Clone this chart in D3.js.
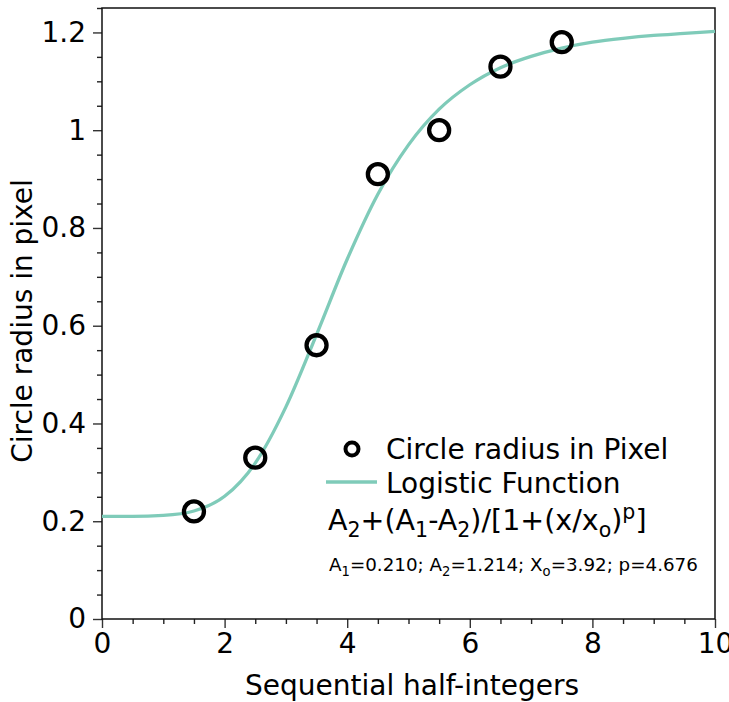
<!DOCTYPE html>
<html>
<head>
<meta charset="utf-8">
<script src="https://cdn.jsdelivr.net/npm/d3@7"></script>
<style>
  body { margin: 0; background: #fff; }
  svg { display: block; font-family: 'DejaVu Sans', sans-serif; }
</style>
</head>
<body>
<script>
// measured points (circle radius in pixel)
const xPoints = [1.5, 2.5, 3.5, 4.5, 5.5, 6.5, 7.5];
const yPoints = [0.22, 0.33, 0.56, 0.91, 1.00, 1.13, 1.18];

// fitted logistic curve
const curveX = [0, 0.5, 1, 1.5, 2, 2.5, 3, 3.5, 4, 4.5, 5, 5.5, 6, 6.5, 7, 7.5, 8, 8.5, 9, 9.5, 10];
const curveY = [0.210, 0.210, 0.212, 0.221, 0.251, 0.319, 0.434, 0.582, 0.736, 0.869, 0.970,
                1.043, 1.093, 1.128, 1.151, 1.168, 1.180, 1.188, 1.194, 1.198, 1.202];

const xTicks = [0, 2, 4, 6, 8, 10];
const yTicks = [0, 0.2, 0.4, 0.6, 0.8, 1, 1.2];

const width = 729, height = 702;
const margin = {top: 8, right: 14, bottom: 83, left: 102};

const svg = d3.select('body')
    .append('svg')
    .attr('width', width)
    .attr('height', height);

const x = d3.scaleLinear().domain([0, 10]).range([margin.left, width - margin.right]);
const y = d3.scaleLinear().domain([0, 1.25]).range([height - margin.bottom, margin.top]);

// minor ticks
const xMinor = d3.range(0, 10.001, 0.5).filter(v => Math.abs(v % 2) > 1e-6);
const yMinor = d3.range(0, 1.2501, 0.05).filter(v => Math.abs(Math.round(v * 100) % 20) !== 0);

svg.append('g')
    .attr('transform', `translate(0,${height - margin.bottom})`)
    .call(d3.axisBottom(x).tickValues(xMinor).tickSize(5).tickFormat(''))
    .call(g => g.select('.domain').remove())
    .call(g => g.selectAll('line').attr('stroke', '#222').attr('stroke-width', 1.4));

svg.append('g')
    .attr('transform', `translate(${margin.left},0)`)
    .call(d3.axisLeft(y).tickValues(yMinor).tickSize(5).tickFormat(''))
    .call(g => g.select('.domain').remove())
    .call(g => g.selectAll('line').attr('stroke', '#222').attr('stroke-width', 1.4));

// major ticks + labels
svg.append('g')
    .attr('transform', `translate(0,${height - margin.bottom})`)
    .call(d3.axisBottom(x).tickValues(xTicks).tickSize(9).tickPadding(5).tickFormat(d3.format('d')))
    .call(g => g.select('.domain').remove())
    .call(g => g.selectAll('line').attr('stroke', '#333').attr('stroke-width', 1.4))
    .call(g => g.selectAll('text').attr('font-size', 28).attr('fill', '#000')
        .attr('font-family', 'DejaVu Sans'));

svg.append('g')
    .attr('transform', `translate(${margin.left},0)`)
    .call(d3.axisLeft(y).tickValues(yTicks).tickSize(9).tickPadding(7).tickFormat(d => d3.format('')(+d.toFixed(1))))
    .call(g => g.select('.domain').remove())
    .call(g => g.selectAll('line').attr('stroke', '#333').attr('stroke-width', 1.4))
    .call(g => g.selectAll('text').attr('font-size', 28).attr('fill', '#000')
        .attr('font-family', 'DejaVu Sans'));

// frame
svg.append('rect')
    .attr('x', margin.left)
    .attr('y', margin.top)
    .attr('width', width - margin.left - margin.right)
    .attr('height', height - margin.top - margin.bottom)
    .attr('fill', 'none')
    .attr('stroke', '#111')
    .attr('stroke-width', 1.5);

// axis titles
svg.append('text')
    .attr('x', 412)
    .attr('y', 695)
    .attr('text-anchor', 'middle')
    .attr('font-size', 28)
    .text('Sequential half-integers');

svg.append('text')
    .attr('transform', 'translate(32,321) rotate(-90)')
    .attr('text-anchor', 'middle')
    .attr('font-size', 28)
    .text('Circle radius in pixel');

// curve
const teal = '#7fcbb9';
const curvePts = curveX.map((v, i) => [v, curveY[i]]);
svg.append('path')
    .datum(curvePts)
    .attr('fill', 'none')
    .attr('stroke', teal)
    .attr('stroke-width', 3.3)
    .attr('d', d3.line().x(d => x(d[0])).y(d => y(d[1])).curve(d3.curveMonotoneX));

// points
svg.append('g')
    .selectAll('circle')
    .data(xPoints.map((v, i) => [v, yPoints[i]]))
    .enter().append('circle')
    .attr('cx', d => x(d[0]))
    .attr('cy', d => y(d[1]))
    .attr('r', 10)
    .attr('fill', 'none')
    .attr('stroke', '#000')
    .attr('stroke-width', 4.3);

// legend
const legend = svg.append('g');
legend.append('circle')
    .attr('cx', 352).attr('cy', 449).attr('r', 6.5)
    .attr('fill', 'none').attr('stroke', '#000').attr('stroke-width', 4);
legend.append('text')
    .attr('x', 386).attr('y', 459).attr('font-size', 28)
    .text('Circle radius in Pixel');
legend.append('line')
    .attr('x1', 326).attr('x2', 377).attr('y1', 482).attr('y2', 482)
    .attr('stroke', teal).attr('stroke-width', 3.3);
legend.append('text')
    .attr('x', 386).attr('y', 493).attr('font-size', 28)
    .text('Logistic Function');

// rich text with sub/superscripts
function richText(sel, xPos, yPos, size, parts) {
    const t = sel.append('text').attr('x', xPos).attr('y', yPos).attr('font-size', size);
    let shift = 0;
    parts.forEach(p => {
        const target = p[1] === 'sub' ? size * 0.25 : p[1] === 'sup' ? -size * 0.38 : 0;
        t.append('tspan')
            .attr('dy', target - shift)
            .attr('font-size', p[1] ? size * 0.72 : size)
            .text(p[0]);
        shift = target;
    });
    return t;
}

richText(legend, 328, 530, 28.5, [
    ['A'], ['2', 'sub'], ['+(A'], ['1', 'sub'], ['-A'], ['2', 'sub'], [')/[1+(x/x'], ['o', 'sub'], [')'], ['p', 'sup'], [']']
]);

richText(legend, 329, 571, 18.3, [
    ['A'], ['1', 'sub'], ['=0.210; A'], ['2', 'sub'], ['=1.214; X'], ['o', 'sub'], ['=3.92; p=4.676']
]);
</script>
</body>
</html>
